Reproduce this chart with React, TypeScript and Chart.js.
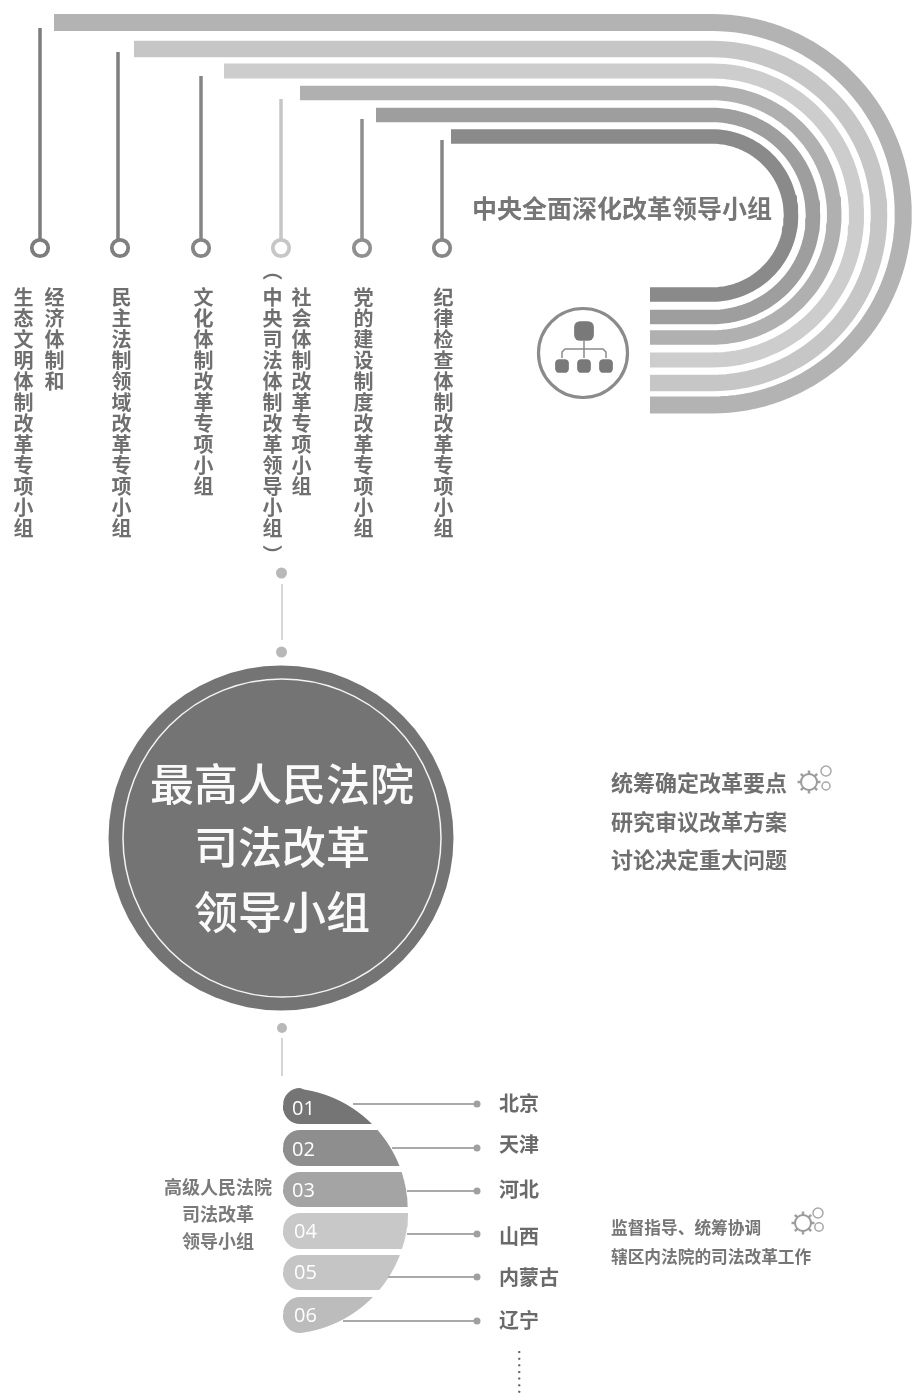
import React, { useEffect, useRef } from "react";
import { Chart, registerables } from "chart.js";

Chart.register(...registerables);

// ---- text content ----
const mainTitle = "中央全面深化改革领导小组";
const groupColumns = [
  "生态文明体制改革专项小组",
  "经济体制和",
  "民主法制领域改革专项小组",
  "文化体制改革专项小组",
  "（中央司法体制改革领导小组）",
  "社会体制改革专项小组",
  "党的建设制度改革专项小组",
  "纪律检查体制改革专项小组",
];
const courtLines = ["最高人民法院", "司法改革", "领导小组"];
const dutyLines = ["统筹确定改革要点", "研究审议改革方案", "讨论决定重大问题"];
const highCourtLines = ["高级人民法院", "司法改革", "领导小组"];
const superviseLines = ["监督指导、统筹协调", "辖区内法院的司法改革工作"];
const segmentCodes = ["01", "02", "03", "04", "05", "06"];
const provinces = ["北京", "天津", "河北", "山西", "内蒙古", "辽宁"];

// ---- values (axis units = picture pixels) ----
const bandStartX = [54, 134, 224, 300, 376, 451];
const bandTopY = [22.5, 49, 71, 93, 115, 136.5];
const bandBottomY = [405, 383, 360, 337.5, 317, 294.5];
const bandWidth = [17, 16.5, 15, 14.5, 14.5, 14.5];
const bandColors = ["#b3b3b3", "#c6c6c6", "#cdcdcd", "#b0b0b0", "#9e9e9e", "#8a8a8a"];
const stemX = [40, 118, 201, 281, 362, 442];
const stemTopY = [28, 52, 76, 99, 119, 140];
const ringX = [40, 120, 201, 281, 362, 442];
const stemColors = ["#7c7c7c", "#7f7f7f", "#858585", "#c6c6c6", "#8f8f8f", "#868686"];
const segmentTop = [1088, 1130, 1172, 1213, 1255, 1297];
const segmentBottom = [1124, 1166, 1207, 1249, 1290, 1333];
const segmentColors = ["#757575", "#8e8e8e", "#a4a4a4", "#c8c8c8", "#c5c5c5", "#bcbcbc"];
const leaderStartX = [353, 392, 407, 407, 388, 343];
const leaderY = [1104, 1148, 1191, 1234, 1277, 1321];

const lineSet = (data: any[], color: string, width: number, extra: any = {}) => ({
  data, showLine: true, borderColor: color, borderWidth: width, pointRadius: 0,
  tension: 0, fill: false, ...extra,
});
const pointSet = (data: any[], radius: number, fillC: string, borderC: string, bw: number, style = "circle") => ({
  data, showLine: false, pointRadius: radius, pointBackgroundColor: fillC,
  pointBorderColor: borderC, pointBorderWidth: bw, pointStyle: style,
});

const bandPath = (i: number) => {
  const cx = 712;
  const top = bandTopY[i];
  const bottom = bandBottomY[i];
  const r = (bottom - top) / 2;
  const cy = (top + bottom) / 2;
  const pts = [{ x: bandStartX[i], y: top }];
  for (let k = 0; k <= 72; k++) {
    const a = -Math.PI / 2 + (Math.PI * k) / 72;
    pts.push({ x: cx + r * Math.cos(a), y: cy + r * Math.sin(a) });
  }
  pts.push({ x: 650, y: bottom });
  return pts;
};

const segmentPath = (i: number) => {
  const cx = 285, cy = 1211, R = 123, left = 283, rad = 17;
  const top = segmentTop[i];
  const bottom = segmentBottom[i];
  const pts: { x: number; y: number }[] = [];
  for (let k = 0; k <= 8; k++) {
    const a = Math.PI + (Math.PI / 2) * (k / 8);
    pts.push({ x: left + rad + rad * Math.cos(a), y: top + rad + rad * Math.sin(a) });
  }
  for (let k = 0; k <= 24; k++) {
    const y = top + ((bottom - top) * k) / 24;
    const dy = Math.min(R, Math.abs(y - cy));
    pts.push({ x: Math.max(left + rad, cx + Math.sqrt(R * R - dy * dy)), y });
  }
  for (let k = 0; k <= 8; k++) {
    const a = Math.PI / 2 + (Math.PI / 2) * (k / 8);
    pts.push({ x: left + rad + rad * Math.cos(a), y: bottom - rad + rad * Math.sin(a) });
  }
  return pts;
};

const gear = (cx: number, cy: number, sx: number[], sy: number[], sr: number[]) => [
  pointSet([{ x: cx, y: cy }], 11.5, "#ffffff", "#a0a0a0", 2.5, "cross"),
  pointSet([{ x: cx, y: cy }], 11.5, "#ffffff", "#a0a0a0", 2.5, "crossRot"),
  pointSet([{ x: cx, y: cy }], 8, "#ffffff", "#9a9a9a", 2),
  ...sr.map((r, i) => pointSet([{ x: sx[i], y: sy[i] }], r, "#ffffff", "#a8a8a8", 1.5)),
];

const buildDatasets = () => {
  const sets: any[] = [];
  bandStartX.forEach((_, i) => sets.push(lineSet(bandPath(i), bandColors[i], bandWidth[i], { borderJoinStyle: "round" })));
  stemX.forEach((x, i) => {
    sets.push(lineSet([{ x, y: stemTopY[i] }, { x, y: 240 }], stemColors[i], 3.5));
    sets.push(pointSet([{ x: ringX[i], y: 248 }], 8.2, "#ffffff", stemColors[i], 3.8));
  });
  // organisation icon
  sets.push(pointSet([{ x: 583, y: 353 }], 44.5, "#ffffff", "#8b8b8b", 3.2));
  sets.push(lineSet([{ x: 584, y: 341 }, { x: 584, y: 358 }], "#8a8a8a", 1.5));
  sets.push(lineSet([{ x: 562, y: 358 }, { x: 562, y: 352 }, { x: 565, y: 349 }, { x: 603, y: 349 }, { x: 606, y: 352 }, { x: 606, y: 358 }], "#8a8a8a", 1.5));
  sets.push(pointSet([{ x: 584, y: 331 }], 11.5, "#797979", "#797979", 0, "rectRounded"));
  sets.push(pointSet([{ x: 562, y: 366 }, { x: 584, y: 366 }, { x: 606, y: 366 }], 8, "#797979", "#797979", 0, "rectRounded"));
  // connectors and big circle
  sets.push(lineSet([{ x: 282, y: 584 }, { x: 282, y: 640 }], "#cccccc", 1.5));
  sets.push(pointSet([{ x: 281.5, y: 573 }, { x: 281.5, y: 652 }], 5.5, "#b8b8b8", "#b8b8b8", 0));
  sets.push(pointSet([{ x: 281, y: 838 }], 172.5, "#747474", "#747474", 0));
  sets.push(pointSet([{ x: 282, y: 838 }], 159, "rgba(0,0,0,0)", "#f4f4f4", 1.5));
  sets.push(lineSet([{ x: 282, y: 1038 }, { x: 282, y: 1076 }], "#c8c8c8", 1.5));
  sets.push(pointSet([{ x: 282, y: 1028 }], 5, "#b8b8b8", "#b8b8b8", 0));
  // province lens
  segmentTop.forEach((_, i) => sets.push(lineSet(segmentPath(i), segmentColors[i], 0, { fill: "shape", backgroundColor: segmentColors[i] })));
  leaderStartX.forEach((x, i) => {
    sets.push(lineSet([{ x, y: leaderY[i] }, { x: 477, y: leaderY[i] }], "#a9a9a9", 2));
    sets.push(pointSet([{ x: 477, y: leaderY[i] }], 3.5, "#a0a0a0", "#a0a0a0", 0));
  });
  // gears
  sets.push(...gear(809, 782, [826, 826], [771, 786], [5, 4]));
  sets.push(...gear(803, 1223, [818, 819], [1213, 1227], [5, 4.2]));
  sets.forEach((d, i) => { d.order = sets.length - i; d.clip = false; });
  return sets;
};

const cjk = '"Noto Sans CJK SC", sans-serif';
const TEXT = "#6f6f6f";

const Label = ({ x, y, size, text, color = TEXT, weight = 700, align = "left", spacing = 0 }: any) => (
  <div style={{
    position: "absolute", left: x, top: y, fontSize: size, lineHeight: 1, color, fontWeight: weight,
    fontFamily: cjk, whiteSpace: "nowrap", letterSpacing: spacing,
    transform: `translate(${align === "center" ? "-50%" : "0"}, -50%)`,
  }}>{text}</div>
);
const shifted = (ch: string, dy: number) => <span style={{ position: "relative", top: dy }}>{ch}</span>;
const Column = ({ x, y, text }: any) => {
  const hasParens = text.startsWith("（");
  return (
    <div style={{
      position: "absolute", left: x - 10, top: y, width: 20, fontSize: 20, lineHeight: "20px", color: TEXT,
      fontWeight: 700, fontFamily: cjk, whiteSpace: "nowrap", writingMode: "vertical-rl", letterSpacing: 1,
    }}>
      {hasParens ? <>{shifted("（", -6)}{text.slice(1, -1)}{shifted("）", 6)}</> : text}
    </div>
  );
};

const columnX = [23, 54, 121, 203, 272, 301, 363, 443];
const columnY = [287, 287, 287, 287, 266, 287, 287, 287];
const courtY = [782, 845, 910];
const dutyY = [781, 820, 858];
const highCourtY = [1186, 1213, 1240];
const superviseY = [1227, 1256];
const codeX = [292, 292, 292, 294, 294, 294];
const codeY = [1108, 1149, 1190, 1231, 1272, 1315];
const provinceY = [1103, 1144, 1189, 1236, 1277, 1320];

export default function App() {
  const ref = useRef<HTMLCanvasElement>(null);
  useEffect(() => {
    document.body.style.margin = "0";
    const chart = new Chart(ref.current!, {
      type: "scatter",
      data: { datasets: buildDatasets() },
      options: {
        animation: false,
        responsive: false,
        devicePixelRatio: 1,
        layout: { padding: 0, autoPadding: false },
        plugins: { legend: { display: false }, tooltip: { enabled: false } },
        scales: {
          x: { type: "linear", min: 0, max: 912, display: false },
          y: { type: "linear", min: 0, max: 1394, reverse: true, display: false },
        },
      },
    });
    return () => chart.destroy();
  }, []);
  return (
    <div style={{ position: "absolute", left: 0, top: 0, width: 912, height: 1394, overflow: "hidden", background: "#fff" }}>
      <canvas ref={ref} width={912} height={1394} style={{ display: "block" }} />
      <Label x={472} y={207} size={25} text={mainTitle} color="#767676" />
      {groupColumns.map((t, i) => <Column key={t} x={columnX[i]} y={columnY[i]} text={t} />)}
      {courtLines.map((t, i) => <Label key={t} x={282} y={courtY[i]} size={44} text={t} color="#fafafa" weight={500} align="center" />)}
      {dutyLines.map((t, i) => <Label key={t} x={611} y={dutyY[i]} size={22} text={t} />)}
      {highCourtLines.map((t, i) => <Label key={t} x={218} y={highCourtY[i]} size={18} text={t} color="#7a7a7a" align="center" />)}
      {superviseLines.map((t, i) => <Label key={t} x={611} y={superviseY[i]} size={16.7} text={t} color="#767676" />)}
      {segmentCodes.map((t, i) => (
        <div key={t} style={{ position: "absolute", left: codeX[i], top: codeY[i], transform: "translateY(-50%)", fontFamily: '"Open Sans", sans-serif', fontSize: 20, lineHeight: 1, color: "#fff" }}>{t}</div>
      ))}
      {provinces.map((t, i) => <Label key={t} x={499} y={provinceY[i]} size={20} text={t} color="#6a6a6a" />)}
      <div style={{ position: "absolute", left: 516, top: 1350, height: 42, width: 14, fontFamily: cjk, fontSize: 13, lineHeight: "14px", fontWeight: 700, color: "#666", writingMode: "vertical-rl", letterSpacing: 2.4, whiteSpace: "nowrap" }}>.......</div>
    </div>
  );
}
